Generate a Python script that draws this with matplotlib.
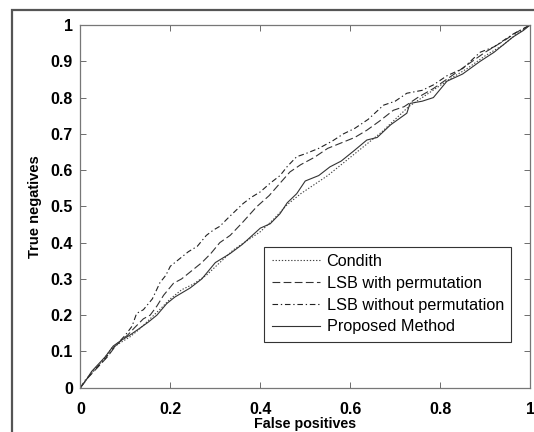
import matplotlib
matplotlib.use("Agg")
import matplotlib.pyplot as plt
from matplotlib.patches import Rectangle

# ROC-Kurven
x_condith = [0, 0.015, 0.03, 0.05, 0.07, 0.09, 0.11, 0.13, 0.155, 0.18, 0.2, 0.225, 0.25, 0.28,
             0.31, 0.34, 0.37, 0.4, 0.43, 0.46, 0.49, 0.52, 0.55, 0.58, 0.61, 0.64, 0.67, 0.7,
             0.73, 0.76, 0.79, 0.82, 0.86, 0.9, 0.94, 0.97, 1.0]
y_condith = [0, 0.025, 0.05, 0.075, 0.11, 0.125, 0.14, 0.16, 0.19, 0.22, 0.245, 0.27, 0.285, 0.31,
             0.345, 0.38, 0.405, 0.43, 0.465, 0.505, 0.535, 0.56, 0.585, 0.615, 0.645, 0.675, 0.705, 0.74,
             0.775, 0.8, 0.825, 0.85, 0.88, 0.915, 0.945, 0.975, 1.0]

x_lsb_perm = [0, 0.015, 0.03, 0.045, 0.06, 0.075, 0.09, 0.105, 0.12, 0.14, 0.155, 0.17, 0.185, 0.207,
              0.225, 0.25, 0.27, 0.29, 0.31, 0.333, 0.36, 0.392, 0.42, 0.444, 0.466, 0.49, 0.52, 0.55,
              0.58, 0.61, 0.637, 0.665, 0.696, 0.72, 0.75, 0.785, 0.82, 0.86, 0.9, 0.94, 0.97, 1.0]
y_lsb_perm = [0, 0.025, 0.045, 0.065, 0.085, 0.11, 0.13, 0.145, 0.165, 0.19, 0.2, 0.225, 0.255, 0.288,
              0.3, 0.325, 0.345, 0.37, 0.4, 0.42, 0.455, 0.499, 0.53, 0.564, 0.595, 0.615, 0.635, 0.66,
              0.675, 0.69, 0.71, 0.735, 0.765, 0.775, 0.8, 0.825, 0.855, 0.89, 0.925, 0.955, 0.98, 1.0]

x_lsb_noperm = [0, 0.01, 0.025, 0.04, 0.055, 0.07, 0.085, 0.1, 0.115, 0.125, 0.14, 0.16, 0.177, 0.19,
                0.2, 0.22, 0.24, 0.26, 0.28, 0.296, 0.31, 0.33, 0.362, 0.38, 0.4, 0.422, 0.444, 0.46,
                0.481, 0.5, 0.53, 0.56, 0.585, 0.61, 0.64, 0.674, 0.7, 0.726, 0.76, 0.785, 0.815, 0.85,
                0.889, 0.92, 0.962, 0.985, 1.0]
y_lsb_noperm = [0, 0.02, 0.04, 0.06, 0.08, 0.105, 0.125, 0.145, 0.17, 0.205, 0.215, 0.245, 0.29, 0.31,
                0.335, 0.355, 0.375, 0.39, 0.42, 0.435, 0.445, 0.47, 0.508, 0.525, 0.54, 0.564, 0.585, 0.61,
                0.637, 0.645, 0.66, 0.68, 0.7, 0.715, 0.74, 0.779, 0.79, 0.812, 0.82, 0.835, 0.86, 0.88,
                0.925, 0.94, 0.975, 0.99, 1.0]

x_proposed = [0, 0.012, 0.025, 0.04, 0.055, 0.073, 0.09, 0.11, 0.133, 0.15, 0.17, 0.192, 0.21, 0.244,
              0.27, 0.3, 0.333, 0.36, 0.4, 0.422, 0.444, 0.46, 0.481, 0.5, 0.53, 0.555, 0.58, 0.61,
              0.637, 0.66, 0.69, 0.726, 0.733, 0.76, 0.785, 0.815, 0.85, 0.889, 0.92, 0.962, 0.985, 1.0]
y_proposed = [0, 0.02, 0.045, 0.065, 0.085, 0.115, 0.13, 0.145, 0.165, 0.18, 0.2, 0.232, 0.25, 0.275,
              0.3, 0.345, 0.37, 0.395, 0.44, 0.452, 0.48, 0.51, 0.535, 0.57, 0.585, 0.609, 0.625, 0.655,
              0.683, 0.69, 0.725, 0.757, 0.784, 0.79, 0.8, 0.845, 0.865, 0.9, 0.925, 0.967, 0.985, 1.0]

labels = ["Condith", "LSB with permutation", "LSB without permutation", "Proposed Method"]
ticks = [0, 0.2, 0.4, 0.6, 0.8, 1]
tick_labels = ["0", "0.2", "0.4", "0.6", "0.8", "1"]
yticks = [0, 0.1, 0.2, 0.3, 0.4, 0.5, 0.6, 0.7, 0.8, 0.9, 1]
ytick_labels = ["0", "0.1", "0.2", "0.3", "0.4", "0.5", "0.6", "0.7", "0.8", "0.9", "1"]

plt.rcParams["font.family"] = "Liberation Sans"

fig = plt.figure(figsize=(5.34, 4.32), dpi=100)
ax = fig.add_axes([0.1506, 0.1025, 0.842, 0.8395])

# Rahmen um die ganze Abbildung
fig.patches.append(Rectangle((0.0225, -0.05), 1.1, 1.027, transform=fig.transFigure,
                             fill=False, edgecolor="#555555", linewidth=1.6))

ax.plot(x_condith, y_condith, linestyle=(0, (1.2, 1.6)), color="#444444", linewidth=0.8, label=labels[0])
ax.plot(x_lsb_perm, y_lsb_perm, linestyle=(0, (7, 3)), color="#333333", linewidth=0.8, label=labels[1])
ax.plot(x_lsb_noperm, y_lsb_noperm, linestyle=(0, (5, 2.5, 1.2, 2.5)), color="#222222", linewidth=0.8, label=labels[2])
ax.plot(x_proposed, y_proposed, linestyle="-", color="#333333", linewidth=0.8, label=labels[3])

ax.set_xlim(0, 1)
ax.set_ylim(0, 1)
ax.set_xticks(ticks)
ax.set_xticklabels(tick_labels, fontsize=11.5, fontweight="bold")
ax.set_yticks(yticks)
ax.set_yticklabels(ytick_labels, fontsize=11.5, fontweight="bold")
ax.tick_params(direction="in", top=True, right=True, length=4, width=0.6, color="#555555")
ax.tick_params(axis="x", pad=10)
ax.tick_params(axis="y", pad=5.5)
for s in ax.spines.values():
    s.set_color("#777777")
    s.set_linewidth(0.9)

ax.set_xlabel("False positives", fontsize=10.3, fontweight="bold", labelpad=0.5)
ax.set_ylabel("True negatives", fontsize=10.5, fontweight="bold", labelpad=6)

leg = ax.legend(loc="lower right", bbox_to_anchor=(0.958, 0.127), borderaxespad=0, fontsize=11.7,
                handlelength=2.95, labelspacing=0.42, handletextpad=0.43, borderpad=0.45,
                fancybox=False, framealpha=1)
leg.get_frame().set_edgecolor("#333333")
leg.get_frame().set_linewidth(0.8)

fig.savefig("out.png", dpi=100)
